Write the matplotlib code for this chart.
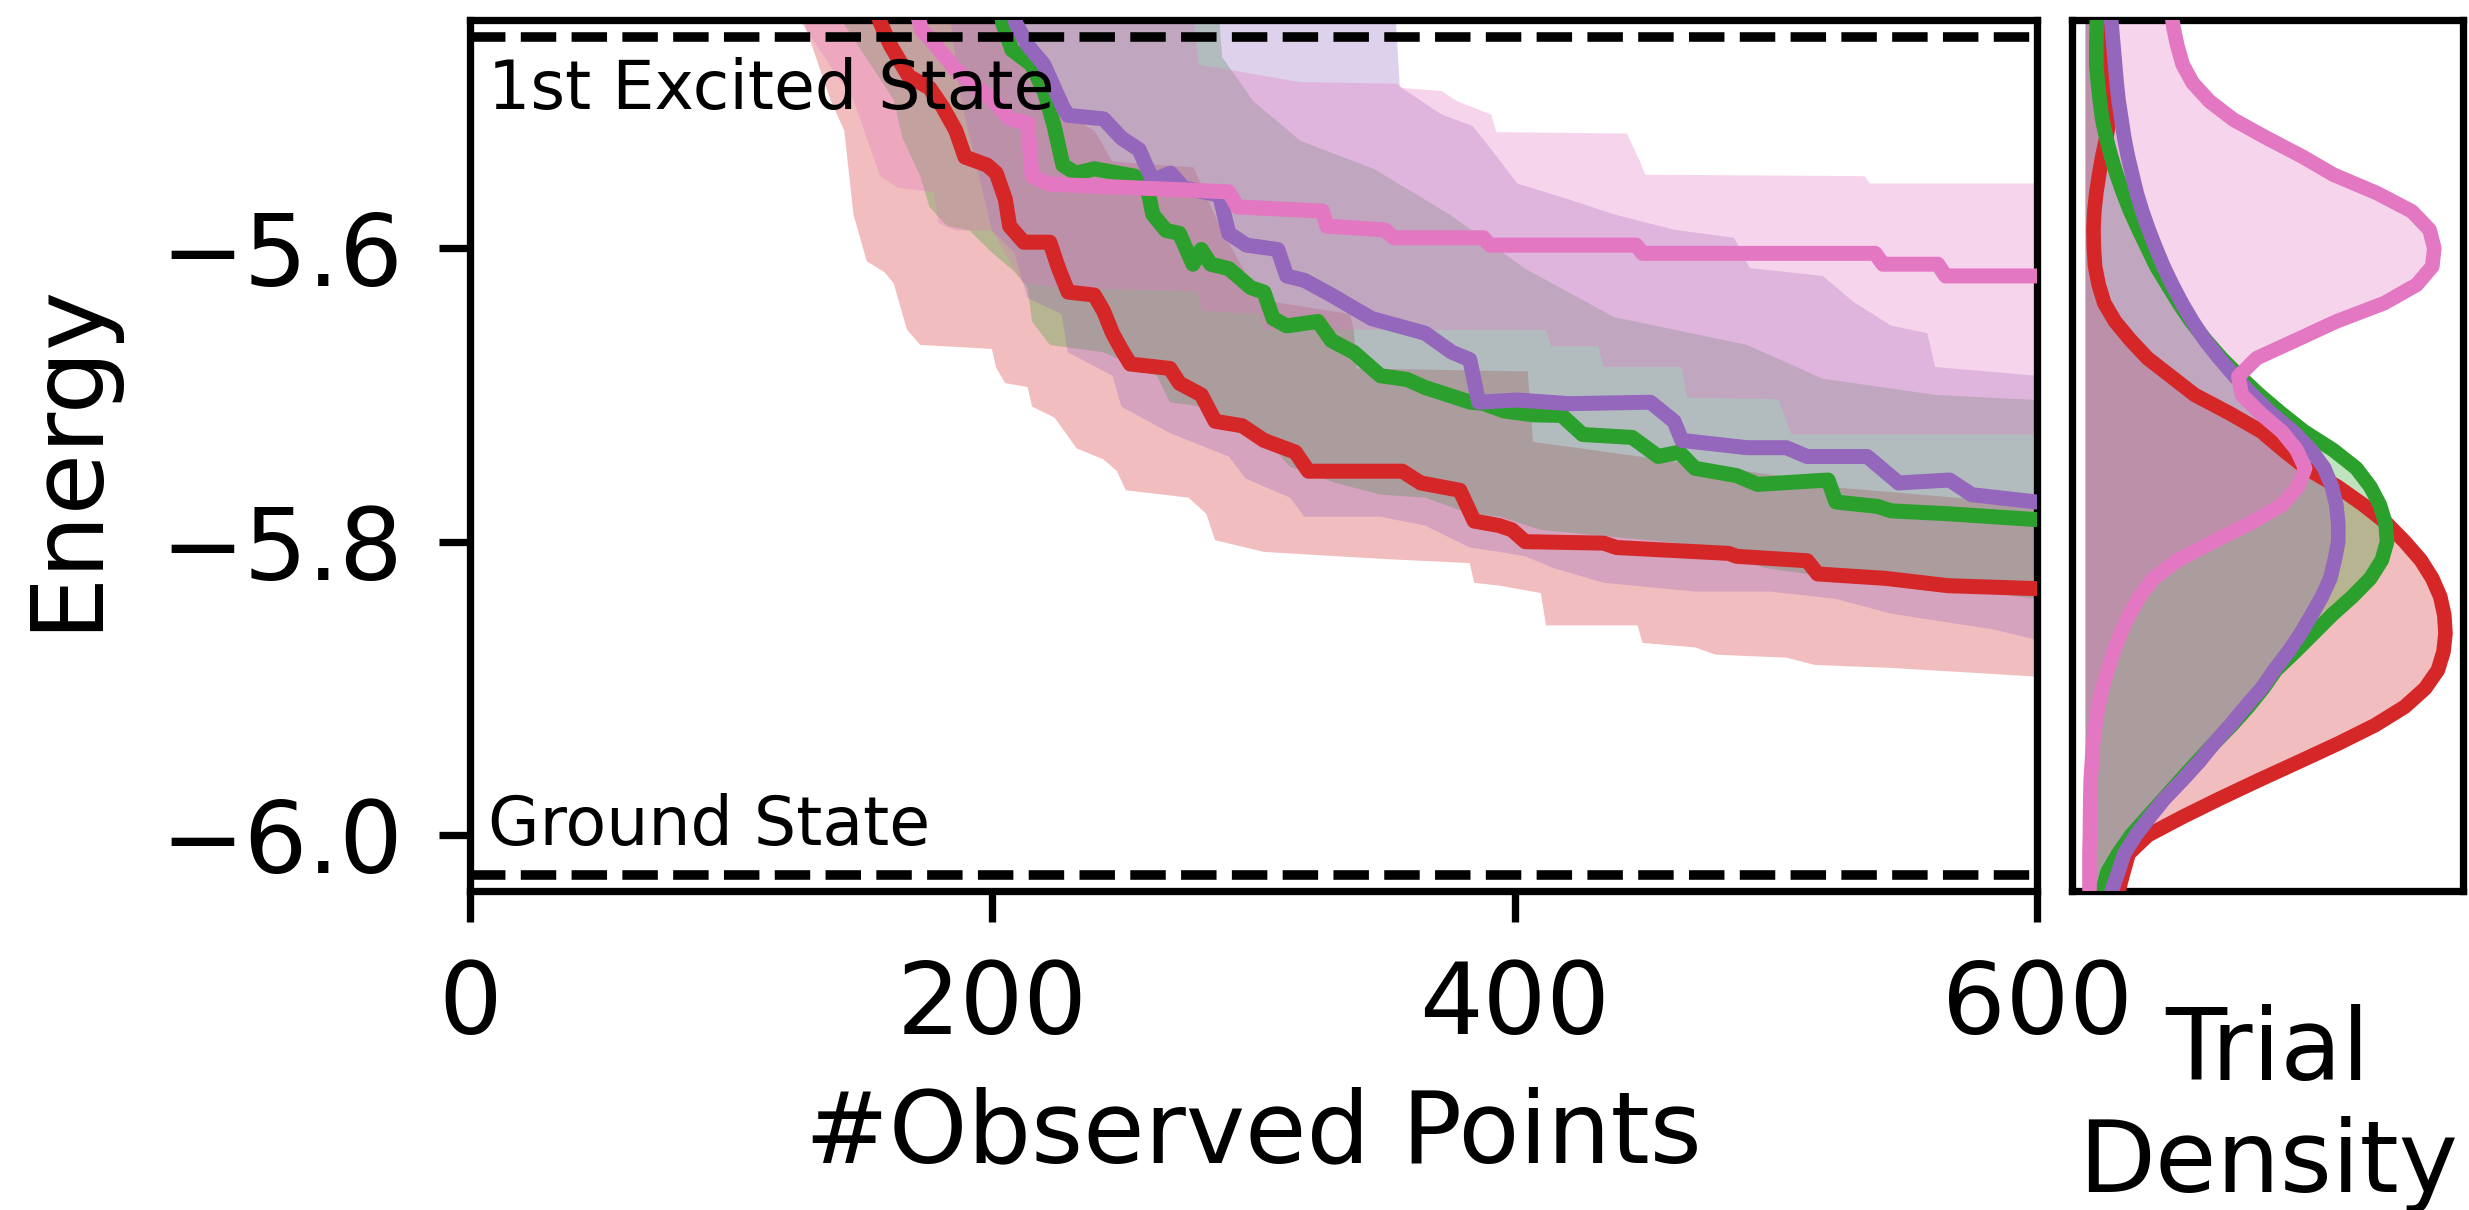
import numpy as np
import matplotlib
matplotlib.use("Agg")
import matplotlib.pyplot as plt

plt.rcParams["font.family"] = "DejaVu Sans"

# reference energies (dashed lines)
GROUND_STATE = -6.0271
EXCITED_STATE = -5.4563

# best energy found vs number of observed points (mean over trials)
RED_X = [150, 157, 161, 168, 176, 181, 186, 189.5, 198, 201.5, 205, 206.6, 212, 222, 225.4, 229, 239,
         242.6, 246, 249.4, 252.8, 268, 271.6, 280, 285.3, 295.6, 304, 316, 321, 357, 364, 379, 384.5,
         394, 399, 404, 434, 439, 482, 485, 512, 516, 542, 566, 600]
RED_E = [-5.40, -5.446, -5.462, -5.483, -5.491, -5.504, -5.520, -5.538, -5.5435, -5.549, -5.567, -5.585,
         -5.596, -5.596, -5.614, -5.630, -5.632, -5.643, -5.658, -5.669, -5.679, -5.682, -5.692, -5.700,
         -5.718, -5.721, -5.731, -5.739, -5.752, -5.752, -5.760, -5.765, -5.786, -5.789, -5.792, -5.800,
         -5.801, -5.804, -5.808, -5.810, -5.813, -5.822, -5.825, -5.830, -5.832]

GREEN_X = [200, 204, 207.5, 215, 220, 223.8, 227, 232, 239, 254.5, 259.7, 261.4, 266.5, 271.6, 276.8,
           280, 283.6, 290.5, 299, 304, 307.5, 312.7, 324.7, 329.8, 338.4, 348.6, 358.8, 365.7, 383, 388,
           396, 407, 418, 426, 445, 455, 463, 469, 485, 493, 520, 523, 539, 544, 566, 600]
GREEN_E = [-5.40, -5.447, -5.465, -5.475, -5.494, -5.518, -5.5435, -5.549, -5.546, -5.551, -5.562,
           -5.577, -5.588, -5.590, -5.611, -5.601, -5.611, -5.614, -5.627, -5.630, -5.648, -5.653,
           -5.650, -5.663, -5.671, -5.687, -5.6895, -5.695, -5.705, -5.7058, -5.711, -5.7136, -5.714,
           -5.727, -5.729, -5.742, -5.739, -5.750, -5.755, -5.761, -5.758, -5.773, -5.776, -5.779,
           -5.781, -5.785]

PURPLE_X = [205, 209, 213.6, 219.7, 227, 229, 242.6, 249.4, 256.2, 261.4, 268.2, 273.3, 287, 290.5,
            297.3, 309.3, 312.7, 319.5, 329.8, 345.2, 365.7, 376, 382.8, 386.2, 401, 421, 452, 461, 464,
            489, 504, 512, 535, 547, 566.5, 575, 600]
PURPLE_E = [-5.40, -5.447, -5.462, -5.475, -5.504, -5.5096, -5.512, -5.525, -5.533, -5.554, -5.549,
            -5.559, -5.564, -5.590, -5.598, -5.601, -5.619, -5.622, -5.632, -5.648, -5.658, -5.671,
            -5.676, -5.705, -5.7035, -5.706, -5.705, -5.718, -5.731, -5.736, -5.736, -5.742, -5.742,
            -5.760, -5.758, -5.768, -5.773]

PINK_X = [165, 173, 176, 186, 200, 206.6, 213.5, 215.2, 222, 290.5, 293.9, 326.4, 328.1, 350.3, 353.7,
          388, 390.6, 446.5, 449, 538, 541, 562, 565, 600]
PINK_E = [-5.40, -5.452, -5.457, -5.4785, -5.499, -5.512, -5.515, -5.551, -5.5565, -5.5617, -5.572,
          -5.5748, -5.585, -5.5877, -5.593, -5.593, -5.598, -5.598, -5.6036, -5.6036, -5.611, -5.611,
          -5.619, -5.619]

# spread bands (upper / lower edges)
RED_UP_X = [120, 195, 205, 218.6, 239, 246, 277, 287, 296, 302, 337, 338.4, 339.5, 405, 407, 460, 521,
            523, 575, 600]
RED_UP_E = [-5.20, -5.40, -5.445, -5.499, -5.520, -5.541, -5.545, -5.585, -5.614, -5.635, -5.645,
            -5.656, -5.682, -5.684, -5.732, -5.745, -5.760, -5.763, -5.771, -5.772]
RED_LO_X = [120, 127, 128, 138, 143.3, 146.8, 151.9, 158.7, 162.2, 167.3, 172.4, 199.8, 201.5, 204.9,
            213.5, 215.2, 223.8, 232.3, 242.6, 247.7, 251.1, 275.1, 281.9, 285.3, 304.1, 352, 382.8,
            384.5, 394.4, 410, 412, 447, 449, 469, 477, 504, 515, 544, 582, 600]
RED_LO_E = [-5.20, -5.40, -5.447, -5.499, -5.520, -5.577, -5.609, -5.6165, -5.624, -5.6556, -5.666,
            -5.6687, -5.6817, -5.692, -5.6947, -5.708, -5.7155, -5.7365, -5.744, -5.752, -5.765, -5.770,
            -5.781, -5.799, -5.807, -5.812, -5.8146, -5.828, -5.830, -5.835, -5.857, -5.857, -5.869,
            -5.872, -5.877, -5.879, -5.884, -5.886, -5.890, -5.892]

GREEN_UP_X = [120, 285, 288, 300, 318, 346, 375, 404, 438, 489, 518, 561, 600]
GREEN_UP_E = [-5.20, -5.40, -5.47, -5.50, -5.527, -5.546, -5.577, -5.614, -5.647, -5.666, -5.689,
              -5.700, -5.7035]
GREEN_LO_X = [120, 141, 143, 162.2, 165.6, 172.4, 175.9, 182.7, 191.2, 199.8, 208.4, 213.5, 215.2, 222,
              242.6, 263, 268, 280, 294, 304, 314, 331.5, 348.6, 365.7, 382.8, 394.4, 410, 469, 496,
              536, 577, 600]
GREEN_LO_E = [-5.20, -5.40, -5.447, -5.499, -5.525, -5.551, -5.572, -5.585, -5.588, -5.603, -5.616,
              -5.627, -5.650, -5.666, -5.671, -5.687, -5.705, -5.708, -5.726, -5.729, -5.749, -5.760,
              -5.768, -5.770, -5.781, -5.783, -5.792, -5.802, -5.818, -5.828, -5.834, -5.839]

PURPLE_UP_X = [120, 353, 356, 372, 384, 392, 401, 421, 438, 461, 484, 490, 518, 530, 544, 558, 561, 600]
PURPLE_UP_E = [-5.20, -5.40, -5.49, -5.509, -5.517, -5.535, -5.556, -5.567, -5.577, -5.5875, -5.593,
               -5.6136, -5.619, -5.637, -5.6527, -5.658, -5.681, -5.687]
PURPLE_LO_X = [120, 182, 184, 188, 199.8, 208.4, 213.5, 226.5, 228.9, 246, 249.4, 268, 290.5, 297, 314,
               319.5, 348.6, 365.7, 382.8, 394.4, 404, 415, 434, 469, 498, 523, 544, 584, 600]
PURPLE_LO_E = [-5.20, -5.40, -5.446, -5.499, -5.588, -5.603, -5.634, -5.645, -5.671, -5.687, -5.708,
               -5.726, -5.742, -5.757, -5.770, -5.783, -5.783, -5.789, -5.804, -5.807, -5.810, -5.818,
               -5.828, -5.834, -5.834, -5.839, -5.849, -5.860, -5.867]

PINK_UP_X = [120, 270, 277, 279, 318, 355, 357, 372, 378, 391, 393, 443, 448, 450, 534, 536, 600]
PINK_UP_E = [-5.20, -5.40, -5.44, -5.475, -5.487, -5.488, -5.491, -5.493, -5.500, -5.509, -5.521,
             -5.522, -5.541, -5.550, -5.551, -5.556, -5.556]
PINK_LO_X = [120, 126, 127, 146.8, 157, 164, 177.6, 179.3, 186, 199.8, 211.8, 227, 278.5, 280.2, 302.4,
             304.1, 338.4, 412, 414, 432, 434, 464, 466, 501, 506, 600]
PINK_LO_E = [-5.20, -5.40, -5.447, -5.499, -5.551, -5.559, -5.562, -5.583, -5.588, -5.588, -5.624,
             -5.627, -5.6296, -5.6426, -5.645, -5.6556, -5.6556, -5.656, -5.667, -5.667, -5.681, -5.681,
             -5.702, -5.703, -5.727, -5.727]

# density of final energies across trials (side panel), read every 0.0125
KDE_E = [-5.4375, -5.45, -5.4625, -5.475, -5.4875, -5.5, -5.5125, -5.525, -5.5375, -5.55, -5.5625,
         -5.575, -5.5875, -5.6, -5.6125, -5.625, -5.6375, -5.65, -5.6625, -5.675, -5.6875, -5.7,
         -5.7125, -5.725, -5.7375, -5.75, -5.7625, -5.775, -5.7875, -5.8, -5.8125, -5.825, -5.8375,
         -5.85, -5.8625, -5.875, -5.8875, -5.9, -5.9125, -5.925, -5.9375, -5.95, -5.9625, -5.975,
         -5.9875, -6.0, -6.0125, -6.025, -6.0375, -6.05]
KDE_RED = [0.38, 0.42, 0.47, 0.52, 0.57, 0.60, 0.61, 0.53, 0.43, 0.35, 0.28, 0.23, 0.21, 0.22, 0.25,
           0.34, 0.48, 0.75, 1.13, 1.56, 2.15, 2.74, 3.61, 4.41, 4.95, 5.53, 6.31, 6.96, 7.54, 7.99, 8.39,
           8.68, 8.88, 8.98, 9.01, 8.96, 8.82, 8.50, 7.99, 7.25, 6.33, 5.34, 4.34, 3.37, 2.44, 1.57, 1.09,
           0.96, 0.84, 0.75]
KDE_GREEN = [0.30, 0.29, 0.28, 0.28, 0.32, 0.37, 0.43, 0.53, 0.65, 0.79, 0.95, 1.13, 1.34, 1.56, 1.78,
             2.06, 2.34, 2.65, 3.01, 3.41, 3.87, 4.36, 4.90, 5.48, 6.20, 6.78, 7.13, 7.37, 7.51, 7.55,
             7.42, 7.13, 6.68, 6.17, 5.71, 5.25, 4.77, 4.45, 4.08, 3.67, 3.22, 2.80, 2.38, 1.97, 1.56,
             1.15, 0.83, 0.56, 0.44, 0.38]
KDE_PURPLE = [0.63, 0.67, 0.71, 0.75, 0.79, 0.84, 0.91, 0.98, 1.07, 1.18, 1.29, 1.43, 1.59, 1.77, 1.96,
              2.18, 2.42, 2.69, 2.99, 3.35, 3.75, 4.18, 4.65, 5.20, 5.65, 5.98, 6.17, 6.28, 6.33, 6.33,
              6.24, 6.13, 5.92, 5.66, 5.39, 5.08, 4.73, 4.41, 4.01, 3.63, 3.22, 2.85, 2.43, 1.99, 1.62,
              1.27, 0.98, 0.83, 0.67, 0.58]
KDE_PINK = [2.15, 2.21, 2.31, 2.44, 2.69, 3.11, 3.71, 4.54, 5.42, 6.21, 7.29, 8.17, 8.61, 8.73, 8.68,
            8.29, 7.48, 6.28, 5.29, 4.29, 3.83, 3.92, 4.38, 4.92, 5.29, 5.50, 5.33, 4.92, 4.13, 3.21,
            2.33, 1.71, 1.36, 1.10, 0.89, 0.71, 0.57, 0.43, 0.33, 0.26, 0.20, 0.17, 0.14, 0.13, 0.125,
            0.12, 0.11, 0.11, 0.11, 0.11]

COLORS = {"red": "#d62728", "green": "#2ca02c", "purple": "#9467bd", "pink": "#e377c2"}

lines = [
    ("red", RED_X, RED_E), ("green", GREEN_X, GREEN_E),
    ("purple", PURPLE_X, PURPLE_E), ("pink", PINK_X, PINK_E),
]
bands = [
    ("red", RED_UP_X, RED_UP_E, RED_LO_X, RED_LO_E),
    ("green", GREEN_UP_X, GREEN_UP_E, GREEN_LO_X, GREEN_LO_E),
    ("purple", PURPLE_UP_X, PURPLE_UP_E, PURPLE_LO_X, PURPLE_LO_E),
    ("pink", PINK_UP_X, PINK_UP_E, PINK_LO_X, PINK_LO_E),
]
kdes = [("red", KDE_RED), ("green", KDE_GREEN), ("purple", KDE_PURPLE), ("pink", KDE_PINK)]

fig = plt.figure(figsize=(2470 / 300, 1210 / 300), dpi=300)
ax = fig.add_axes([0.1903, 0.2636, 0.6344, 0.7198])
axd = fig.add_axes([0.8389, 0.2636, 0.1583, 0.7198], sharey=ax)

for name, ux, ue, lx, le in bands:
    px = np.r_[ux, lx[::-1]]
    py = np.r_[ue, le[::-1]]
    ax.fill(px, py, color=COLORS[name], alpha=0.3, lw=0, zorder=1)
for name, x, e in lines:
    ax.plot(x, e, color=COLORS[name], lw=3.6, zorder=3)

ax.axhline(EXCITED_STATE, color="black", ls="--", lw=2.3, zorder=4)
ax.axhline(GROUND_STATE, color="black", ls="--", lw=2.3, zorder=4)
ax.text(7, -5.505, "1st Excited State", fontsize=16, va="baseline", zorder=5)
ax.text(7, -6.0067, "Ground State", fontsize=16, va="baseline", zorder=5)

ax.set_xlim(0, 600)
ax.set_ylim(-6.038, -5.4447)
ax.set_xticks([0, 200, 400, 600])
ax.set_yticks([-6.0, -5.8, -5.6])
ax.tick_params(labelsize=24, length=7.5, width=1.75, pad=8.5)
ax.set_xlabel("#Observed Points", fontsize=24, labelpad=7.5)
ax.set_ylabel("Energy", fontsize=24, labelpad=11)

for name, d in kdes:
    axd.fill_betweenx(KDE_E, 0, d, color=COLORS[name], alpha=0.3, lw=0, zorder=1)
for name, d in kdes:
    axd.plot(d, KDE_E, color=COLORS[name], lw=3.5, zorder=3)
axd.set_xlim(-0.325, 9.45)
axd.set_xticks([])
axd.tick_params(left=False, labelleft=False)
axd.set_xlabel("Trial\nDensity", fontsize=24, labelpad=27)

for a in (ax, axd):
    for s in a.spines.values():
        s.set_linewidth(1.75)

fig.savefig("out.png", dpi=300)
